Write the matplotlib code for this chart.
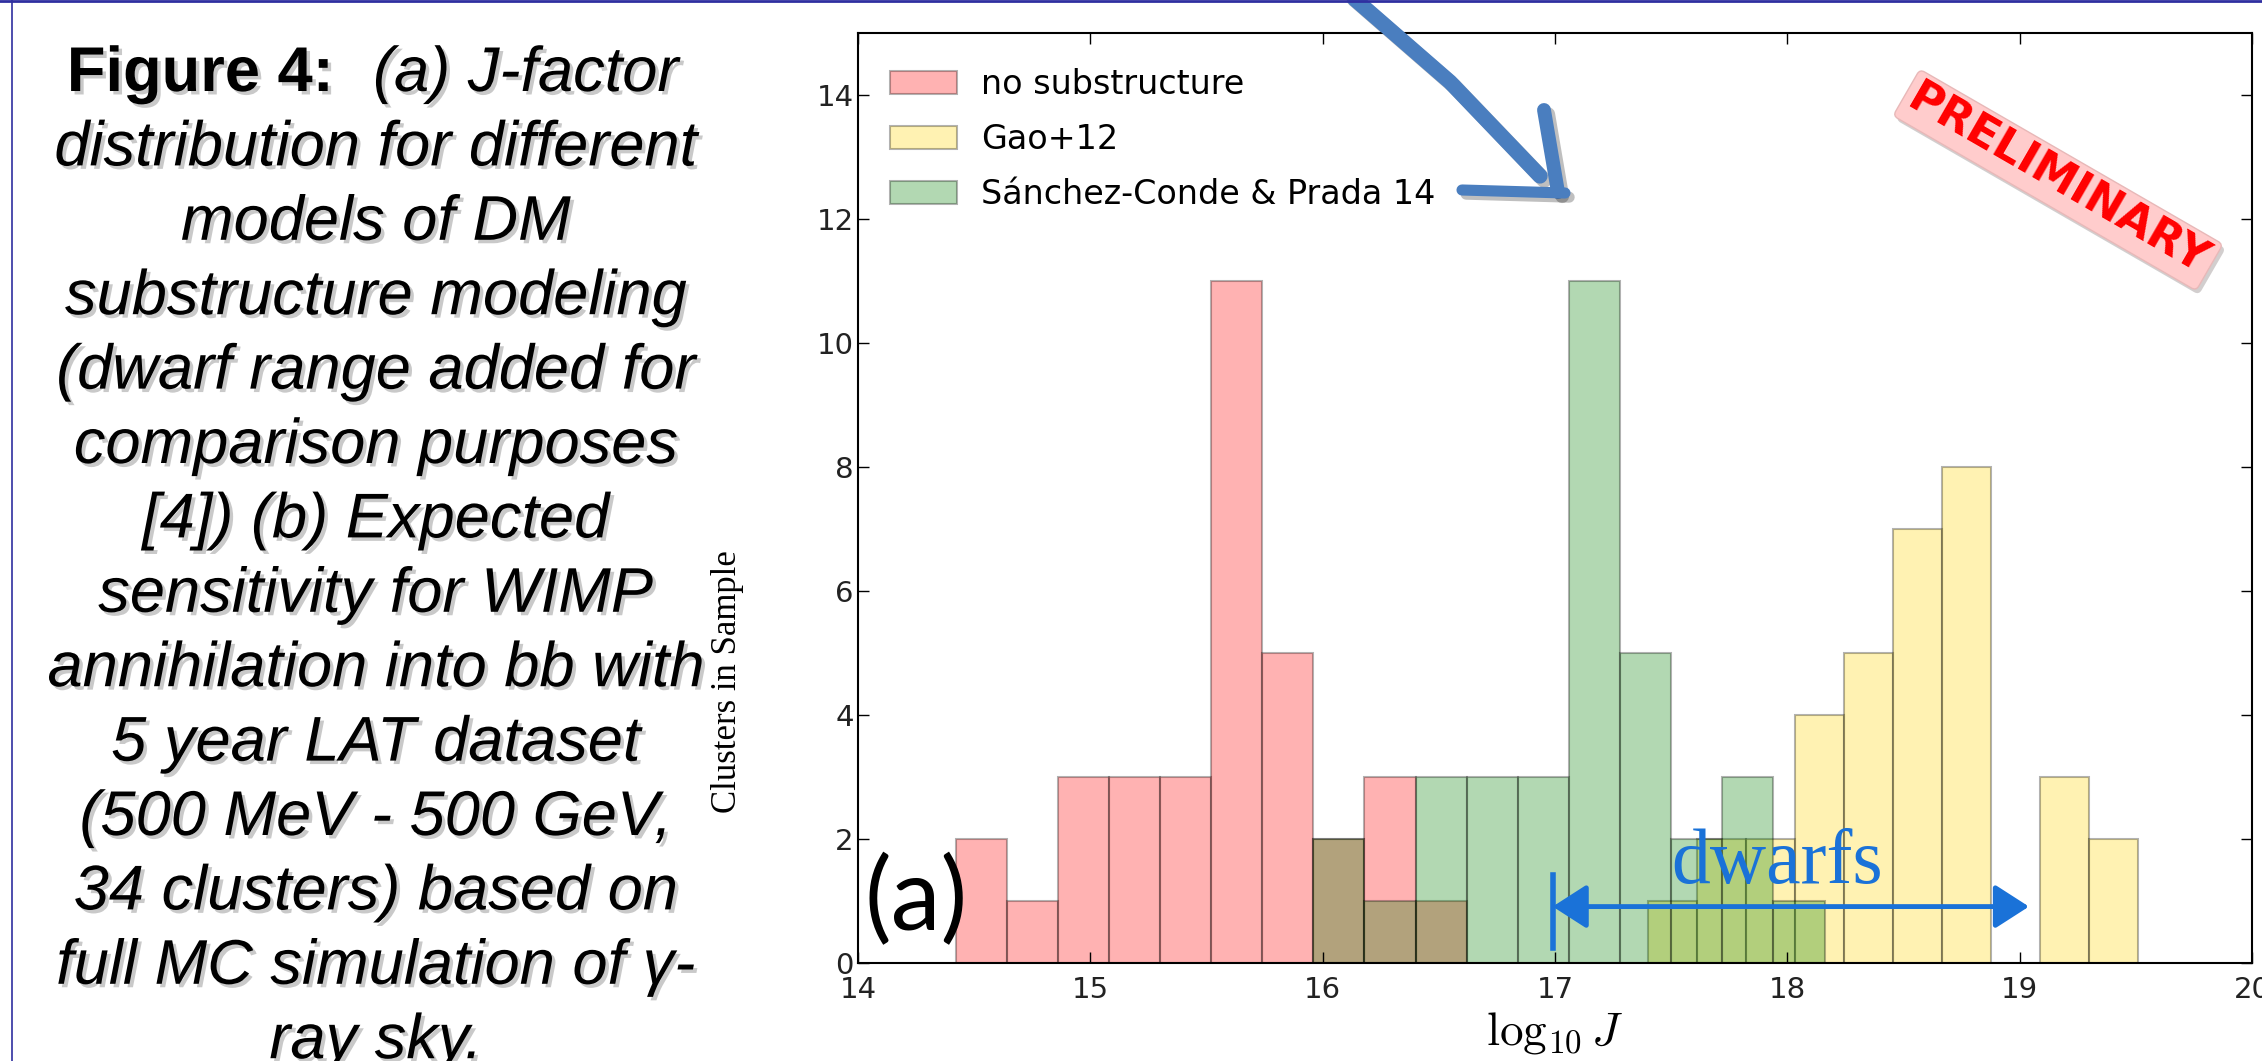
import numpy as np
import matplotlib
matplotlib.use('Agg')
import matplotlib.pyplot as plt
import matplotlib.patheffects as pe
from matplotlib.lines import Line2D

# histogram counts (10 bins each) and the range the bins cover (log10 J)
labels = ['no substructure', 'Gao+12', 'Sánchez-Conde & Prada 14']
colors = ['red', 'gold', 'green']
counts_nosub = [2, 1, 3, 3, 3, 11, 5, 2, 3, 1]
counts_gao = [1, 2, 2, 4, 5, 7, 8, 0, 3, 2]
counts_sc = [2, 1, 3, 3, 3, 11, 5, 2, 3, 1]
range_nosub = (14.42, 16.62)
range_gao = (17.40, 19.51)
range_sc = (15.96, 18.16)

xticks = [14, 15, 16, 17, 18, 19, 20]
yticks = [0, 2, 4, 6, 8, 10, 12, 14]

dwarf_range = (16.99, 19.04)

caption_first = ('Figure 4:', '(a) J-factor')
caption_lines = ['distribution for different', 'models of DM', 'substructure modeling',
                 '(dwarf range added for', 'comparison purposes', '[4]) (b) Expected',
                 'sensitivity for WIMP', 'annihilation into bb with', '5 year LAT dataset',
                 '(500 MeV - 500 GeV,', '34 clusters) based on', 'full MC simulation of γ-',
                 'ray sky.']

W, H = 2262, 1061
plt.rcParams['mathtext.fontset'] = 'cm'


def fx(x):
    return x / W


def fy(y):
    return 1 - y / H


fig = plt.figure(figsize=(W / 100, H / 100), dpi=100)
ax = fig.add_axes([fx(858), fy(963), (2252 - 858) / W, (963 - 33) / H])

for counts, rng, col, lab in zip([counts_nosub, counts_gao, counts_sc],
                                 [range_nosub, range_gao, range_sc], colors, labels):
    edges = np.linspace(rng[0], rng[1], len(counts) + 1)
    centers = (edges[:-1] + edges[1:]) / 2
    ax.hist(centers, bins=edges, weights=counts, color=col, alpha=0.3,
            edgecolor='k', linewidth=1.5, label=lab)

ax.set_xlim(14, 20)
ax.set_ylim(0, 15)
ax.set_xticks(xticks)
ax.set_yticks(yticks)
ax.tick_params(direction='in', top=True, right=True, length=8, width=1,
               labelsize=21, labelcolor='#222222')
ax.tick_params(axis='x', pad=9)
ax.tick_params(axis='y', pad=3)
for s in ax.spines.values():
    s.set_linewidth(1.5)

ax.set_xlabel(r'$\log_{10}J$', fontsize=34)
ax.xaxis.set_label_coords(0.5, -0.05)
fig.text(fx(728), fy(682), 'Clusters in Sample', rotation=90, family='Liberation Serif',
         fontsize=25, ha='center', va='center')

ax.legend(loc='upper left', bbox_to_anchor=(0.023, 0.962), frameon=False, fontsize=24,
          borderpad=0, borderaxespad=0, handlelength=2.0, handleheight=0.7,
          handletextpad=0.72, labelspacing=0.66)

# (a) label
ax.text(14.25, 1.0, '(a)', fontsize=72, family='Lato', ha='center', va='center')

# dwarfs range
blue = '#1a72d8'
ax.text(17.50, 1.29, 'dwarfs', family='Liberation Serif', fontsize=56, color=blue,
        ha='left', va='baseline')
ax.annotate('', xy=(dwarf_range[0], 0.91), xytext=(dwarf_range[1], 0.91),
            arrowprops=dict(arrowstyle='<|-|>,head_length=0.7,head_width=0.45',
                            mutation_scale=30, color=blue, lw=3.5, shrinkA=0, shrinkB=0))
ax.plot([dwarf_range[0]] * 2, [0.24, 1.42], color=blue, lw=4)

# PRELIMINARY stamp
t = fig.text(fx(2058), fy(180), 'PRELIMINARY', rotation=-30, rotation_mode='anchor',
             fontsize=32, weight='bold', color='red', ha='center', va='center',
             bbox=dict(boxstyle='round,pad=0.12', fc='#ffcccc', ec='#e8b8b8', lw=1))
t.get_bbox_patch().set_path_effects([pe.withSimplePatchShadow(offset=(2, -3), alpha=0.25)])

# hand drawn blue arrow
arrow_col = '#4a7ebf'
shadow = [pe.SimpleLineShadow(offset=(3, -3), alpha=0.25), pe.Normal()]
for xs, ys, lw in [([1350, 1450, 1540], [-5, 82, 176], 11),
                   ([1544, 1558], [110, 192], 10),
                   ([1462, 1565], [190, 193], 8)]:
    fig.add_artist(Line2D([fx(v) for v in xs], [fy(v) for v in ys], color=arrow_col,
                          lw=lw, solid_capstyle='round', path_effects=shadow))

# caption on the left
shade = [pe.withSimplePatchShadow(offset=(2.5, -2.5), shadow_rgbFace='0.4', alpha=0.35)]
fig.text(fx(334), fy(91), caption_first[0], family='Liberation Sans', weight='bold',
         fontsize=45.5, ha='right', va='baseline', path_effects=shade)
fig.text(fx(373), fy(91), caption_first[1], family='Liberation Sans', style='italic',
         fontsize=45.5, ha='left', va='baseline', path_effects=shade)
for i, line in enumerate(caption_lines, start=1):
    fig.text(fx(376), fy(91 + 74.4 * i), line, family='Liberation Sans', style='italic',
             fontsize=45.5, ha='center', va='baseline', path_effects=shade)

# blue slide frame
frame = '#2f2fa0'
fig.add_artist(Line2D([0, 1], [fy(1), fy(1)], color=frame, lw=2))
fig.add_artist(Line2D([fx(12), fx(12)], [0, 1], color=frame, lw=1.2))

fig.savefig('out.png', dpi=100)
